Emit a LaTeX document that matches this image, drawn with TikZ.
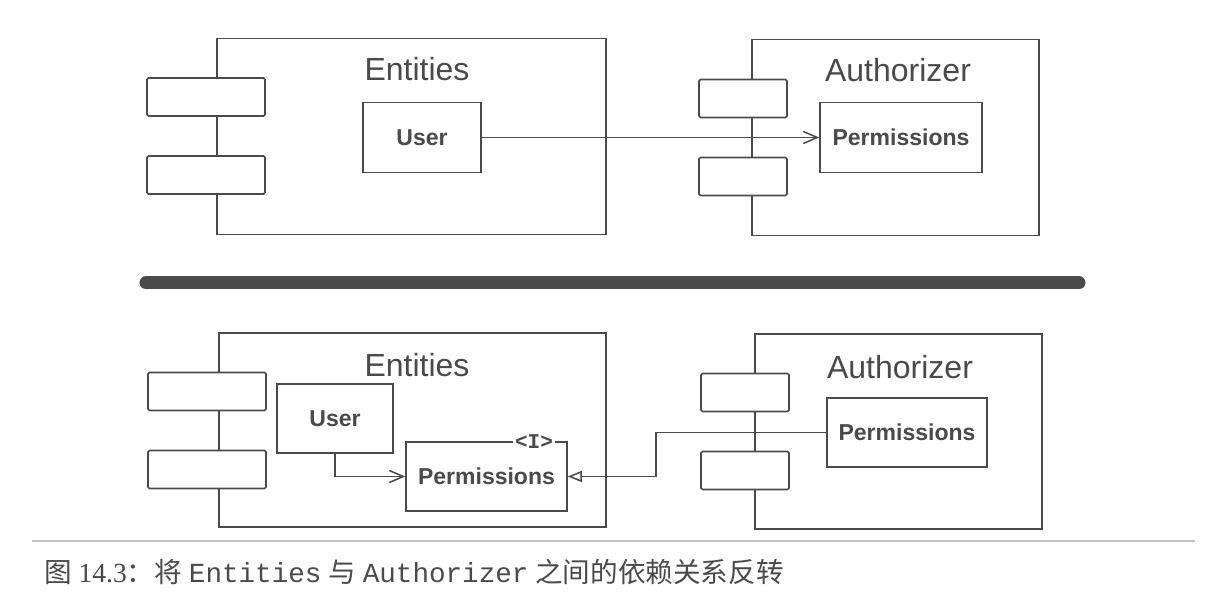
\documentclass[tikz,border=0pt]{standalone}
\usepackage{fontspec}
\setmainfont{Liberation Serif}
\setsansfont{Liberation Sans}
\setmonofont{Liberation Mono}
\newfontfamily\cjk{Noto Sans CJK SC}
\usetikzlibrary{arrows.meta,positioning}
\definecolor{inkgray}{HTML}{4A4A4A}
\definecolor{rulegray}{HTML}{C4C4C4}

\begin{document}
\begin{tikzpicture}[x=0.5pt,y=-0.5pt,node distance=39pt,on grid,
  comp/.style={draw=inkgray,line width=0.8pt,inner sep=0pt,minimum height=98pt},
  port/.style={draw=inkgray,fill=white,line width=0.8pt,rounded corners=0.8pt,
    inner sep=0pt,minimum height=19pt},
  class/.style={draw=inkgray,fill=white,line width=0.8pt,inner sep=0pt,
    minimum height=35pt,text=inkgray,font=\sffamily\bfseries\fontsize{11.5}{14}\selectfont},
  title/.style={text=inkgray,font=\sffamily\fontsize{16}{19}\selectfont},
  stereo/.style={fill=white,inner sep=1pt,text=inkgray,font=\ttfamily\bfseries\fontsize{10.5}{11}\selectfont},
  uses/.style={draw=inkgray,line width=0.75pt,-{Straight Barb[length=7pt,width=6pt]}},
  impl/.style={draw=inkgray,line width=0.75pt,-{Triangle[open,length=7pt,width=5.5pt]}}]
  \useasboundingbox (0,0) rectangle (1210,604);

  % before: Entities depends on Authorizer
  \path
  node[comp,minimum width=194.5pt] (ent1) at (411.5,136.5) {}
  node[comp,minimum width=143.5pt] (auth1) at (895.5,137.5) {}
  node[port,minimum width=59pt] (ep1) at (206,97) {}
  node[port,minimum width=59pt,below=of ep1] (ep2) {}
  node[port,minimum width=44pt] (ap1) at (743,98.5) {}
  node[port,minimum width=44pt,below=of ap1] (ap2) {}
  node[title] (entname1) at (417,69) {Entities}
  node[title] (authname1) at (898,70) {Authorizer}
  node[class,minimum width=59pt] (user1) at (422,137.5) {User}
  node[class,minimum width=81pt] (perm1) at (901,137.5) {Permissions}
  ;
  \path[uses]
  (user1) edge (perm1)
  ;

  % separator bar
  \draw[inkgray,line width=6.5pt,line cap=round] (146,283) -- (1079,283);

  % after: the dependency is inverted
  \path
  node[comp,minimum width=193.5pt,minimum height=97pt] (ent2) at (412.5,430) {}
  node[comp,minimum width=143.5pt,minimum height=97.5pt] (auth2) at (898.5,431.5) {}
  node[port,minimum width=59pt] (ep3) at (207,391.5) {}
  node[port,minimum width=59pt,below=of ep3] (ep4) {}
  node[port,minimum width=44pt] (ap3) at (745,392.5) {}
  node[port,minimum width=44pt,below=of ap3] (ap4) {}
  node[title] (entname2) at (417,365) {Entities}
  node[title] (authname2) at (900,367) {Authorizer}
  node[class,minimum width=58pt,minimum height=34.5pt] (user2) at (335,418.5) {User}
  node[class,minimum width=80.5pt,minimum height=34.5pt] (iperm) at (486.5,476.5) {Permissions}
  node[stereo] (itag) at (534,442) {<I>}
  node[class,minimum width=80pt,minimum height=34.5pt] (authperm) at (907,432.5) {Permissions}
  ;
  \coordinate (bend) at (656,455);
  \draw[uses] (user2.south) |- (iperm.west);
  \draw[impl] (authperm.west) -| (bend) |- (iperm.east);

  % caption
  \draw[rulegray,line width=0.6pt] (32,541) -- (1195,541);
  \node[anchor=west,text=inkgray,font=\fontsize{13.8}{16}\selectfont] (caption) at (37,572)
    {{\cjk 图}~14.3{\cjk ：将}~\texttt{Entities}~{\cjk 与}~\texttt{Authorizer}~{\cjk 之间的依赖关系反转}};
\end{tikzpicture}
\end{document}
